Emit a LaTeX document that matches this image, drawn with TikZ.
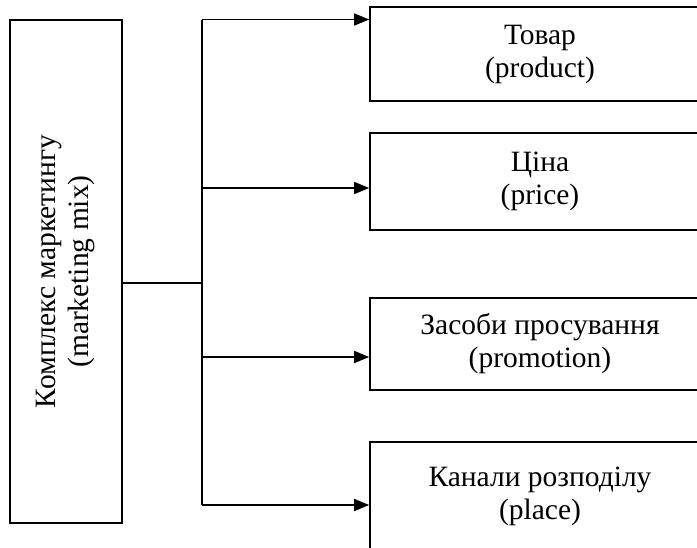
\documentclass[tikz,border=0pt]{standalone}
\usepackage{fontspec}
\setmainfont{Liberation Serif}
\usetikzlibrary{arrows.meta}

\begin{document}
\begin{tikzpicture}[x=1pt,y=-1pt,
  box/.style={
    draw,
    line width=1.6pt,
    align=center,
    inner sep=0pt,
    font=\fontsize{29.5}{33}\selectfont
  },
  link/.style={
    line width=1.6pt
  },
  arr/.style={
    link,
    -{Triangle[length=15pt,width=12pt]}
  }]
  \clip (0,0) rectangle (697,547);
  % left block
  \node[box,rotate=90,minimum width=503pt,minimum height=112pt] at (66,271.5)
    (mix) {Комплекс маркетингу\\(marketing mix)};
  % right blocks
  \node[box,minimum width=340pt,minimum height=94pt] at (540,54)
    (product) {Товар\\(product)};
  \node[box,minimum width=340pt,minimum height=97pt] at (540,181.5)
    (price) {Ціна\\(price)};
  \node[box,minimum width=340pt,minimum height=92pt] at (540,344)
    (promotion) {Засоби просування\\(promotion)};
  \node[box,minimum width=340pt,minimum height=108pt] at (540,496)
    (place) {Канали розподілу\\(place)};

  \coordinate (hub) at (202,283);
  \coordinate (fork-product) at (202,19.5);
  \coordinate (fork-price) at (202,188);
  \coordinate (fork-promotion) at (202,357);
  \coordinate (fork-place) at (202,505);

  \draw[link] (mix.south |- hub) -- (hub);
  \draw[link] (fork-product) -- (fork-place);
  \foreach \n in {product,price,promotion,place}
    \draw[arr] (fork-\n) -- (\n.west |- fork-\n);
\end{tikzpicture}
\end{document}
